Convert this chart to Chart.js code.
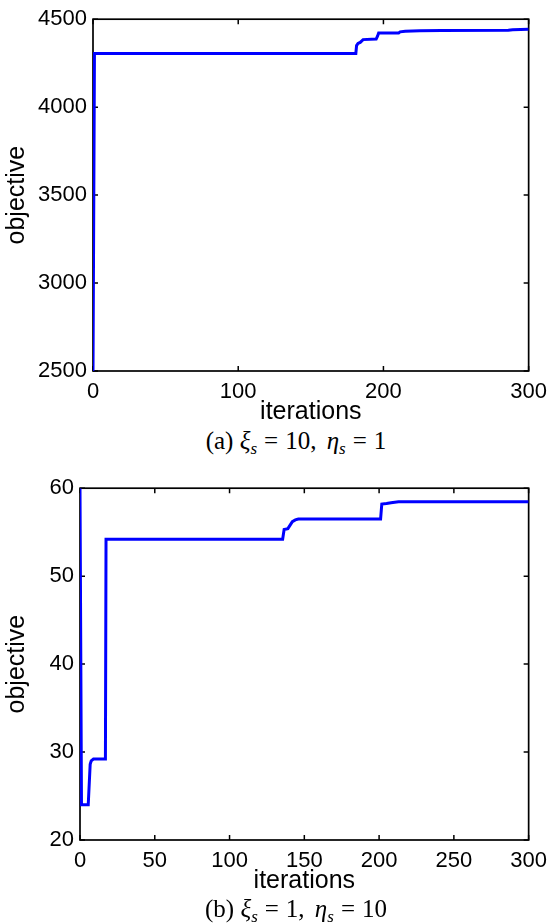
<!DOCTYPE html>
<html>
<head>
<meta charset="utf-8">
<title>objective vs iterations</title>
<script src="https://cdn.jsdelivr.net/npm/chart.js@4.4.1/dist/chart.umd.min.js"></script>
<style>
    html, body { margin: 0; padding: 0; background: #fff; }
    body { width: 555px; height: 924px; position: relative; overflow: hidden; }
    .panel { position: absolute; left: 0; width: 555px; }
    .caption {
        position: absolute; left: 0; width: 592px; text-align: center;
        font-family: 'Liberation Serif', 'DejaVu Serif', serif; font-size: 25px; color: #000;
        line-height: 26px; white-space: nowrap;
    }
    .caption sub { font-size: 17px; vertical-align: -5px; line-height: 0; font-style: italic; }
    .caption .eq { margin: 0 7px; }
    .caption .sep { margin-right: 4px; }
</style>
</head>
<body>
<div class="panel" style="top:0;height:427px"><canvas id="chartA"></canvas></div>
<div class="caption" style="top:428px">(a) <i>ξ</i><sub>s</sub><span class="eq">=</span>10,<span class="sep"></span> <i>η</i><sub>s</sub><span class="eq">=</span>1</div>
<div class="panel" style="top:469px;height:427px"><canvas id="chartB"></canvas></div>
<div class="caption" style="top:896px">(b) <i>ξ</i><sub>s</sub><span class="eq">=</span>1,<span class="sep"></span> <i>η</i><sub>s</sub><span class="eq">=</span>10</div>

<script>
// ---- data ----
// (a) xi_s = 10, eta_s = 1
const iterA = [0, 1, 181, 181.5, 182.5, 184, 186, 195, 196, 196.7, 210.5, 211.5, 215, 225, 240, 286, 289, 300];
const objA  = [2500, 4305, 4305, 4350, 4362, 4368, 4384, 4387, 4405, 4421, 4422, 4428, 4432, 4435, 4436, 4437, 4440, 4443];
const xTicksA = [0, 100, 200, 300];
const yTicksA = [2500, 3000, 3500, 4000, 4500];

// (b) xi_s = 1, eta_s = 10
const iterB = [0, 1, 5.5, 6.8, 7.5, 9, 17, 17.4, 135.5, 136.5, 139, 140.5, 142, 144, 146, 150, 201, 201.8, 205, 208, 213, 300];
const objB  = [60, 24, 24, 28.6, 29.0, 29.2, 29.2, 54.2, 54.2, 55.3, 55.4, 55.8, 56.2, 56.4, 56.5, 56.5, 56.5, 58.2, 58.25, 58.35, 58.45, 58.45];
const xTicksB = [0, 50, 100, 150, 200, 250, 300];
const yTicksB = [20, 30, 40, 50, 60];

const SANS = "'Liberation Sans', Arial, Helvetica, sans-serif";

// MATLAB style box with inward tick marks, drawn under the line
const boxPlugin = {
    id: 'matlabBox',
    beforeDatasetsDraw(chart) {
        const { ctx, chartArea: a, scales } = chart;
        const len = 5;
        ctx.save();
        ctx.strokeStyle = '#000';
        ctx.lineWidth = 1.5;
        ctx.beginPath();
        scales.x.ticks.forEach(t => {
            const px = scales.x.getPixelForValue(t.value);
            ctx.moveTo(px, a.bottom); ctx.lineTo(px, a.bottom - len);
            ctx.moveTo(px, a.top); ctx.lineTo(px, a.top + len);
        });
        scales.y.ticks.forEach(t => {
            const py = scales.y.getPixelForValue(t.value);
            ctx.moveTo(a.left, py); ctx.lineTo(a.left + len, py);
            ctx.moveTo(a.right, py); ctx.lineTo(a.right - len, py);
        });
        ctx.stroke();
        ctx.lineWidth = 1.7;
        ctx.strokeRect(a.left, a.top, a.right - a.left, a.bottom - a.top);
        ctx.restore();
    }
};

function makeChart(id, iters, objs, xTicks, yTicks, yAxisWidth) {
    const ctx = document.getElementById(id);
    return new Chart(ctx, {
        type: 'line',
        data: {
            datasets: [{
                data: iters.map((x, i) => ({ x: x, y: objs[i] })),
                borderColor: '#0000ff',
                borderWidth: 3,
                pointRadius: 0,
                tension: 0,
                fill: false
            }]
        },
        options: {
            responsive: true,
            maintainAspectRatio: false,
            animation: false,
            layout: { padding: { top: 19, right: 20, left: 0, bottom: 0 } },
            plugins: { legend: { display: false }, tooltip: { enabled: false } },
            scales: {
                x: {
                    type: 'linear',
                    min: xTicks[0],
                    max: xTicks[xTicks.length - 1],
                    afterBuildTicks: s => { s.ticks = xTicks.map(v => ({ value: v })); },
                    afterFit: s => { s.height = 56; },
                    grid: { display: false, drawTicks: false },
                    border: { display: false },
                    ticks: { color: '#000', font: { family: SANS, size: 22 }, padding: 8, maxRotation: 0, autoSkip: false,
                             callback: v => String(v) },
                    title: { display: true, text: 'iterations', color: '#000', font: { family: SANS, size: 25 }, padding: 0 }
                },
                y: {
                    min: yTicks[0],
                    max: yTicks[yTicks.length - 1],
                    afterBuildTicks: s => { s.ticks = yTicks.map(v => ({ value: v })); },
                    afterFit: s => { s.width = yAxisWidth; },
                    grid: { display: false, drawTicks: false },
                    border: { display: false },
                    ticks: { color: '#000', font: { family: SANS, size: 22 }, padding: 6, autoSkip: false,
                             callback: v => String(v) },
                    title: { display: true, text: 'objective', color: '#000', font: { family: SANS, size: 25 }, padding: { top: 2, bottom: 0 } }
                }
            }
        },
        plugins: [boxPlugin]
    });
}

makeChart('chartA', iterA, objA, xTicksA, yTicksA, 93);
makeChart('chartB', iterB, objB, xTicksB, yTicksB, 80);
</script>
</body>
</html>
